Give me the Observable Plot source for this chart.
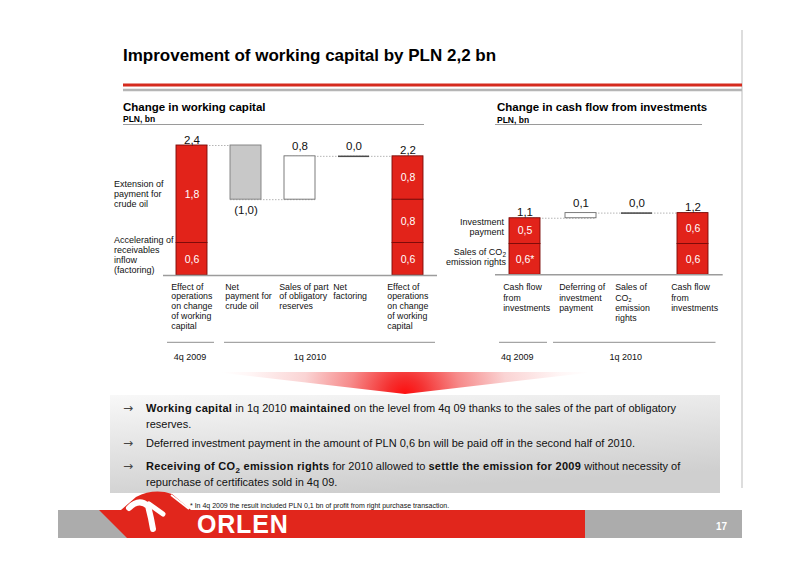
<!DOCTYPE html>
<html>
<head>
<meta charset="utf-8">
<script src="https://cdn.jsdelivr.net/npm/d3@7"></script>
<script src="https://cdn.jsdelivr.net/npm/@observablehq/plot@0.6"></script>
<style>
html, body { margin: 0; padding: 0; background: #fff; }
body { width: 800px; height: 565px; position: relative; overflow: hidden;
  font-family: Arial, "Liberation Sans", Helvetica, sans-serif; color: #000; }
.abs { position: absolute; white-space: nowrap; }
.title { left: 123px; top: 46px; font-size: 17px; line-height: 20px; font-weight: bold; }
.ctitle { font-size: 11.5px; line-height: 13px; font-weight: bold; }
.cunit { font-size: 8.5px; line-height: 10px; font-weight: bold; }
.note { font-size: 9px; line-height: 10px; color: #111; }
.note.r { text-align: right; }
.sub { font-size: 6.5px; position: relative; top: 2px; line-height: 0; }
.bul { left: 146px; font-size: 11px; line-height: 16px; color: #111; }
.bul b { letter-spacing: 0.3px; }
.arr { left: 123px; font-size: 12px; line-height: 16px; color: #444; font-family: "DejaVu Sans", sans-serif; }
.bsub { font-size: 8px; position: relative; top: 3px; line-height: 0; }
.foot { left: 190px; top: 501px; font-size: 7px; line-height: 9px; color: #111; }
.orlen { left: 197px; top: 510px; font-size: 25px; line-height: 28px; font-weight: bold; color: #fff; letter-spacing: 0.8px; }
.pg { left: 716px; top: 521px; font-size: 10px; line-height: 12px; font-weight: bold; color: #fff; }
svg.plot-chart { position: absolute; top: 0; }
</style>
</head>
<body>
<svg class="abs" style="left:0;top:0" width="800" height="565">
  <defs>
    <radialGradient id="arrowGrad" gradientUnits="userSpaceOnUse" cx="405" cy="396" r="185">
      <stop offset="0" stop-color="#ff0a0a"/>
      <stop offset="0.1" stop-color="#f53030"/>
      <stop offset="0.3" stop-color="#f68a8a"/>
      <stop offset="0.55" stop-color="#fad4d4"/>
      <stop offset="0.85" stop-color="#fff6f6"/>
      <stop offset="1" stop-color="#ffffff"/>
    </radialGradient>
    <linearGradient id="boxGrad" x1="0" y1="0" x2="0.35" y2="1">
      <stop offset="0" stop-color="#f8f8f8"/>
      <stop offset="1" stop-color="#cfcfcf"/>
    </linearGradient>
  </defs>
  <line x1="742" y1="30" x2="742" y2="488" stroke="#d2d2d2" stroke-width="1.5"/>
  <line x1="123" y1="85" x2="742" y2="85" stroke="#d52b1e" stroke-width="3"/>
  <line x1="123" y1="90" x2="742" y2="90" stroke="#b5b5b5" stroke-width="2.5"/>
  <line x1="123" y1="124.5" x2="424" y2="124.5" stroke="#9a9a9a" stroke-width="1"/>
  <line x1="495" y1="124.5" x2="702" y2="124.5" stroke="#9a9a9a" stroke-width="1"/>
  <polygon points="215,372 595,372 405,394" fill="url(#arrowGrad)"/>
  <rect x="110" y="395" width="610" height="98" fill="url(#boxGrad)"/>
  <rect x="58" y="510" width="684" height="28" fill="#acacac"/>
  <path d="M99,510 L121,510 L136,497 Q154,488 172,494 L191,510 L585,510 L585,538 L127,538 Z" fill="#e1261c"/>
  <path d="M129,508 Q139,498 148,506 Q151,517 153,529" fill="none" stroke="#fff" stroke-width="6" stroke-linecap="round"/>
  <path d="M149,504 L163,514" fill="none" stroke="#fff" stroke-width="5" stroke-linecap="round"/>
  <path d="M171,495 L189,509" fill="none" stroke="#fff" stroke-width="1.8"/>
</svg>

<div class="abs title">Improvement of working capital by PLN 2,2 bn</div>
<div class="abs ctitle" style="left:123px;top:101px">Change in working capital</div>
<div class="abs cunit" style="left:123px;top:114px">PLN, bn</div>
<div class="abs ctitle" style="left:497px;top:101px">Change in cash flow from investments</div>
<div class="abs cunit" style="left:497px;top:115px">PLN, bn</div>

<div class="abs note" style="left:114px;top:179px">Extension of<br>payment for<br>crude oil</div>
<div class="abs note" style="left:114px;top:235px">Accelerating of<br>receivables<br>inflow<br>(factoring)</div>
<div class="abs note r" style="right:296px;top:217px">Investment<br>payment</div>
<div class="abs note r" style="right:294px;top:247px">Sales of CO<span class="sub">2</span><br>emission rights</div>

<div id="charts"></div>

<div class="abs arr" style="top:400px">&#x2192;</div>
<div class="abs bul" style="top:400px"><b>Working capital</b> in 1q 2010 <b>maintained</b> on the level from 4q 09 thanks to the sales of the part of obligatory<br>reserves.</div>
<div class="abs arr" style="top:435px">&#x2192;</div>
<div class="abs bul" style="top:435px">Deferred investment payment in the amount of PLN 0,6 bn will be paid off in the second half of 2010.</div>
<div class="abs arr" style="top:458px">&#x2192;</div>
<div class="abs bul" style="top:458px"><b>Receiving of CO<span class="bsub">2</span> emission rights</b> for 2010 allowed to <b>settle the emission for 2009</b> without necessity of<br>repurchase of certificates sold in 4q 09.</div>

<div class="abs foot">* In 4q 2009 the result included PLN 0,1 bn of profit from right purchase transaction.</div>
<div class="abs orlen">ORLEN</div>
<div class="abs pg">17</div>

<script>
// ---------- data: change in working capital (PLN bn) ----------
const wcKeys = ["wc4q09", "crudeOil", "reserves", "factoring", "wc1q10"];
const wcLabels = [
  "Effect of\noperations\non change\nof working\ncapital",
  "Net\npayment for\ncrude oil",
  "Sales of part\nof obligatory\nreserves",
  "Net\nfactoring",
  "Effect of\noperations\non change\nof working\ncapital"
];
const wcStartParts = [0.6, 1.8];        // factoring, extension of crude oil payment
const wcStartPartLabels = ["0,6", "1,8"];
const wcChanges = [-1.0, 0.8, 0.0];      // net crude payment, reserves sale, net factoring
const wcEndParts = [0.6, 0.8, 0.8];
const wcEndPartLabels = ["0,6", "0,8", "0,8"];
const wcPeriods = ["4q 2009", "1q 2010"];

// ---------- data: change in cash flow from investments (PLN bn) ----------
const cfKeys = ["cf4q09", "deferring", "co2", "cf1q10"];
const cfLabels = [
  "Cash flow\nfrom\ninvestments",
  "Deferring of\ninvestment\npayment",
  "Sales of\nCO\u2082\nemission\nrights",
  "Cash flow\nfrom\ninvestments"
];
const cfStartParts = [0.6, 0.5];        // CO2 emission rights sale, investment payment
const cfStartPartLabels = ["0,6*", "0,5"];
const cfChanges = [0.1, 0.0];
const cfEndParts = [0.6, 0.6];
const cfEndPartLabels = ["0,6", "0,6"];
const cfPeriods = ["4q 2009", "1q 2010"];

// ---------- helpers ----------
const num = v => d3.format(".1f")(Math.abs(v) < 1e-9 ? 0 : Math.abs(v)).replace(".", ",");
const fmt = v => v < -1e-9 ? "(" + num(v) + ")" : num(v);

function buildWaterfall(keys, startParts, startLabels, changes, endParts, endLabels) {
  const segs = [], zeros = [], tops = [], bottoms = [], inside = [], links = [];
  let acc = 0;
  startParts.forEach((v, i) => {
    segs.push({key: keys[0], y1: acc, y2: acc + v, kind: "total"});
    inside.push({key: keys[0], y: acc + v / 2, text: startLabels[i]});
    acc += v;
  });
  tops.push({key: keys[0], y: acc, text: fmt(acc), kind: "total"});
  changes.forEach((c, j) => {
    const key = keys[j + 1];
    links.push({from: keys[j], to: key, y: acc});
    if (Math.abs(c) < 1e-9) {
      zeros.push({key, y: acc});
      tops.push({key, y: acc, text: fmt(c), kind: "change"});
    } else {
      const lo = Math.min(acc, acc + c), hi = Math.max(acc, acc + c);
      segs.push({key, y1: lo, y2: hi, kind: c < 0 ? "neg" : "pos"});
      if (c < 0) bottoms.push({key, y: lo, text: fmt(c)});
      else tops.push({key, y: hi, text: fmt(c), kind: "change"});
    }
    acc += c;
  });
  const last = keys[keys.length - 1];
  links.push({from: keys[keys.length - 2], to: last, y: acc});
  let b = 0;
  endParts.forEach((v, i) => {
    segs.push({key: last, y1: b, y2: b + v, kind: "total"});
    inside.push({key: last, y: b + v / 2, text: endLabels[i]});
    b += v;
  });
  tops.push({key: last, y: b, text: fmt(b), kind: "total"});
  return {segs, zeros, tops, bottoms, inside, links};
}

const RED = "#e2231a", RED_STROKE = "#7a0a08";
const FONT = "Arial, 'Liberation Sans', Helvetica, sans-serif";

function waterfallChart(cfg) {
  const w = buildWaterfall(cfg.keys, cfg.startParts, cfg.startLabels, cfg.changes, cfg.endParts, cfg.endLabels);
  const cats = cfg.keys.map((k, i) => ({key: k, label: cfg.labels[i]}));
  const bw = cfg.bandwidth;
  const chart = Plot.plot({
    width: cfg.width, height: cfg.height,
    marginLeft: cfg.marginLeft, marginRight: cfg.marginRight,
    marginTop: cfg.marginTop, marginBottom: cfg.marginBottom,
    style: {background: "transparent", overflow: "visible", fontFamily: FONT, color: "#000"},
    x: {domain: cfg.keys, paddingInner: cfg.paddingInner, paddingOuter: cfg.paddingOuter, axis: null},
    y: {domain: [0, cfg.yMax], axis: null},
    marks: [
      Plot.ruleY(w.links, {x1: "from", x2: "to", y: "y", stroke: "#b5b5b5", strokeWidth: 1, strokeDasharray: "1.5,1.5"}),
      Plot.barY(w.segs.filter(d => d.kind === "total"), {x: "key", y1: "y1", y2: "y2", fill: RED, stroke: RED_STROKE, strokeWidth: 0.9}),
      Plot.barY(w.segs.filter(d => d.kind === "neg"), {x: "key", y1: "y1", y2: "y2", fill: "#c8c8c8", stroke: "#7d7d7d", strokeWidth: 0.9}),
      Plot.barY(w.segs.filter(d => d.kind === "pos"), {x: "key", y1: "y1", y2: "y2", fill: "#ffffff", stroke: "#6e6e6e", strokeWidth: 0.9}),
      Plot.ruleY(w.zeros, {x1: "key", x2: "key", y: "y", stroke: "#4a4a4a", strokeWidth: 1.5}),
      Plot.ruleY([0], {stroke: "#9c9c9c", strokeWidth: 1.5}),
      Plot.text(w.inside, {x: "key", y: "y", text: "text", fill: "#fff", fontSize: 10.5}),
      Plot.text(w.tops.filter(d => d.kind === "total"), {x: "key", y: "y", text: "text", lineAnchor: "bottom", dy: -2, fontSize: 11.5, fill: "#111"}),
      Plot.text(w.tops.filter(d => d.kind === "change"), {x: "key", y: "y", text: "text", lineAnchor: "bottom", dy: -6, fontSize: 11.5, fill: "#111"}),
      Plot.text(w.bottoms, {x: "key", y: "y", text: "text", lineAnchor: "top", dy: 6, fontSize: 11.5, fill: "#111"}),
      Plot.text(cats, {x: "key", y: () => 0, text: "label", textAnchor: "start", lineAnchor: "top", dx: -bw / 2 + cfg.labelDx, dy: cfg.labelDy, fontSize: 8.8, lineHeight: cfg.lineHeight, fill: "#111"})
    ]
  });
  chart.classList.add("plot-chart");
  chart.style.left = cfg.left + "px";
  // period rules and labels, positioned through the chart's own scales
  const sx = chart.scale("x"), sy = chart.scale("y");
  const bandW = sx.bandwidth;
  const base = sy.apply(0);
  const g = d3.select(chart).append("g");
  cfg.periods.forEach(p => {
    const x1 = sx.apply(p.from) + p.off1;
    const x2 = sx.apply(p.to) + bandW + p.off2;
    g.append("line").attr("x1", x1).attr("x2", x2).attr("y1", base + cfg.periodRuleDy).attr("y2", base + cfg.periodRuleDy)
      .attr("stroke", "#8f8f8f").attr("stroke-width", 1);
    g.append("text").attr("x", sx.apply(p.at) + bandW / 2 + p.labelDx).attr("y", base + cfg.periodLabelDy)
      .attr("text-anchor", "middle").attr("dominant-baseline", "middle")
      .attr("font-size", 9).attr("font-family", FONT).attr("fill", "#111").text(p.text);
  });
  return chart;
}

const holder = document.getElementById("charts");

holder.appendChild(waterfallChart({
  keys: wcKeys, labels: wcLabels,
  startParts: wcStartParts, startLabels: wcStartPartLabels,
  changes: wcChanges, endParts: wcEndParts, endLabels: wcEndPartLabels,
  left: 0, width: 460, height: 380,
  marginLeft: 163, marginRight: 23, marginTop: 145, marginBottom: 105,
  paddingInner: 0.424, paddingOuter: 0.217, bandwidth: 31.5,
  yMax: 2.4, labelDx: -5, labelDy: 7, lineHeight: 1.12,
  periodRuleDy: 67.3, periodLabelDy: 82.3,
  periods: [
    {from: wcKeys[0], to: wcKeys[0], off1: -9, off2: 7, at: wcKeys[0], labelDx: -1.5, text: wcPeriods[0]},
    {from: wcKeys[1], to: wcKeys[4], off1: -6, off2: 12, at: wcKeys[2], labelDx: 10.5, text: wcPeriods[1]}
  ]
}));

holder.appendChild(waterfallChart({
  keys: cfKeys, labels: cfLabels,
  startParts: cfStartParts, startLabels: cfStartPartLabels,
  changes: cfChanges, endParts: cfEndParts, endLabels: cfEndPartLabels,
  left: 460, width: 300, height: 380,
  marginLeft: 35, marginRight: 37.3, marginTop: 212.6, marginBottom: 105.7,
  paddingInner: 0.443, paddingOuter: 0.22, bandwidth: 31.7,
  yMax: 1.2, labelDx: -6, labelDy: 8, lineHeight: 1.18,
  periodRuleDy: 68, periodLabelDy: 83,
  periods: [
    {from: cfKeys[0], to: cfKeys[0], off1: -10, off2: 7, at: cfKeys[0], labelDx: -7.3, text: cfPeriods[0]},
    {from: cfKeys[1], to: cfKeys[3], off1: -12, off2: 7.5, at: cfKeys[2], labelDx: -10.7, text: cfPeriods[1]}
  ]
}));
</script>
</body>
</html>
